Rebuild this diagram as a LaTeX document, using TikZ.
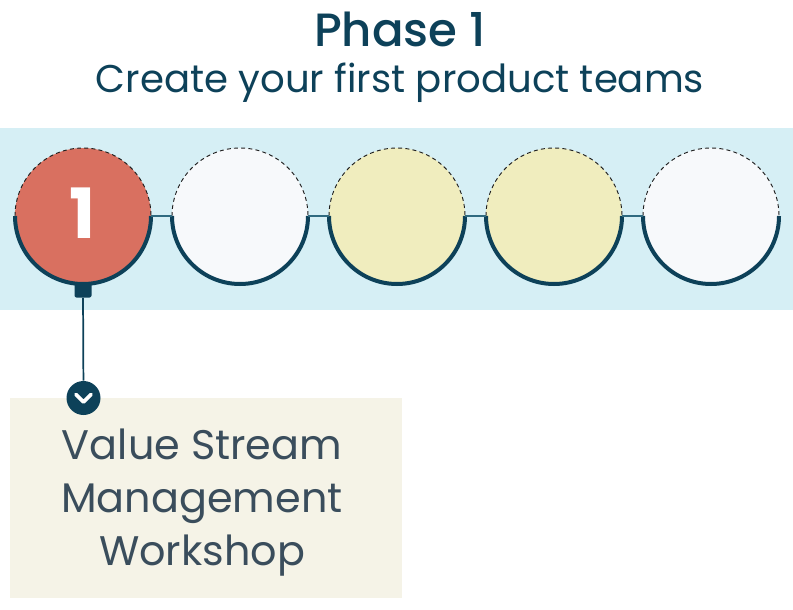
\documentclass[tikz,border=0pt]{standalone}
\usepackage{fontspec}
\setmainfont{Poppins}
\newfontfamily\titlefont{Poppins Medium}
\usetikzlibrary{positioning}

\definecolor{bandblue}{HTML}{D6EFF5}
\definecolor{navy}{HTML}{0D4159}
\definecolor{linkteal}{HTML}{2F6A80}
\definecolor{stagered}{HTML}{D97060}
\definecolor{stagewhite}{HTML}{F7F9FB}
\definecolor{stageyellow}{HTML}{F0EDBE}
\definecolor{boxbeige}{HTML}{F5F3E7}
\definecolor{boxtext}{HTML}{3A4D5C}

\begin{document}
\begin{tikzpicture}[x=0.75pt,y=-0.75pt,
  stage/.style={circle,minimum size=102pt,inner sep=0pt,outer sep=0pt},
  rim/.style={navy,line width=3pt},
  topline/.style={gray!25!black,line width=0.7pt,dash pattern=on 3pt off 2.4pt}]
\useasboundingbox (0,0) rectangle (793,610);

% Title
\node[anchor=base,font=\titlefont\fontsize{35}{40}\selectfont,text=navy] (title) at (400,47) {Phase 1};
\node[anchor=base,font=\fontsize{29}{34}\selectfont,text=navy] (subtitle) at (400,93) {Create your first product teams};

% Band behind the stages
\fill[bandblue] (0,128) rectangle (793,310);

% Stages
\foreach \i/\x/\col in {1/83/stagered,2/240/stagewhite,3/397/stageyellow,4/554/stageyellow,5/711/stagewhite}{
  \node[stage,fill=\col] (c\i) at (\x,216) {};
  \draw[topline] (c\i.west) arc[start angle=180,end angle=0,radius=51pt];
  \draw[rim] (c\i.west) arc[start angle=180,end angle=360,radius=51pt];
}
\foreach \a/\b in {1/2,2/3,3/4,4/5}
  \draw[linkteal,line width=1.2pt] (c\a.east) -- (c\b.west);

\node[text=white,font=\fontsize{52}{56}\selectfont\bfseries] at ([yshift=2pt]c1) {1};

% Pointer down to the workshop
\node[fill=navy,rounded corners=1.5pt,minimum width=12.75pt,minimum height=11.25pt,inner sep=0pt] (tab) at (83,290) {};
\node[anchor=north,fill=boxbeige,minimum width=294pt,minimum height=150pt,inner sep=0pt] (workshop) at (206,398) {};
\node[text=boxtext,align=center,font=\fontsize{31}{39.75}\selectfont] (label) at (202,503)
  {Value Stream\\Management\\Workshop};
\node[circle,fill=navy,minimum size=25.5pt,inner sep=0pt] (chev) at (83.5,398) {};
\draw[navy,line width=1.3pt] (tab) -- (chev);
\draw[white,line width=2.8pt,line cap=round,line join=round]
  ([shift={(-7.5,-3.5)}]chev.center) -- ([shift={(0,4)}]chev.center) -- ([shift={(7.5,-3.5)}]chev.center);
\end{tikzpicture}
\end{document}
